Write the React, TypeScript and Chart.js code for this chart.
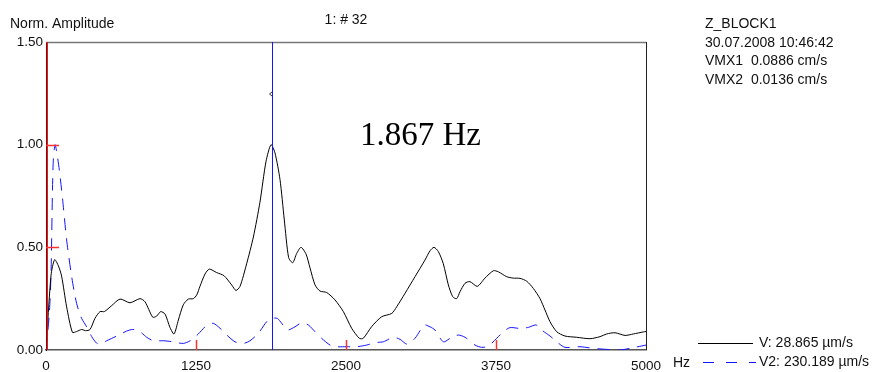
import { useEffect, useRef } from "react";
import { Chart, registerables } from "chart.js";

Chart.register(...registerables);

// ---- data ----
const vHz = [0, 42, 72, 103, 130, 172, 220, 255, 297, 330, 367, 408, 450, 486, 547, 617, 700, 783, 825, 889, 922, 956, 992, 1033, 1067, 1103, 1144, 1186, 1228, 1256, 1283, 1325, 1361, 1422, 1483, 1547, 1583, 1617, 1672, 1728, 1783, 1833, 1875, 1908, 1950, 1986, 2022, 2056, 2089, 2125, 2167, 2200, 2242, 2283, 2339, 2408, 2478, 2547, 2611, 2644, 2714, 2797, 2881, 2922, 2992, 3075, 3158, 3200, 3233, 3269, 3311, 3353, 3389, 3422, 3450, 3492, 3533, 3594, 3658, 3728, 3769, 3839, 3894, 3950, 4006, 4061, 4117, 4158, 4200, 4256, 4325, 4422, 4533, 4617, 4672, 4742, 4825, 4894, 4978, 5000];
const vAmp = [0, 0.365, 0.44, 0.41, 0.36, 0.21, 0.086, 0.09, 0.1, 0.094, 0.1, 0.154, 0.187, 0.187, 0.216, 0.248, 0.23, 0.25, 0.235, 0.16, 0.165, 0.187, 0.175, 0.11, 0.078, 0.146, 0.22, 0.248, 0.25, 0.268, 0.31, 0.37, 0.394, 0.377, 0.362, 0.317, 0.29, 0.31, 0.42, 0.55, 0.72, 0.917, 1.0, 0.96, 0.83, 0.633, 0.45, 0.425, 0.47, 0.5, 0.467, 0.4, 0.317, 0.287, 0.28, 0.244, 0.187, 0.106, 0.057, 0.057, 0.114, 0.162, 0.178, 0.21, 0.276, 0.357, 0.438, 0.483, 0.5, 0.48, 0.42, 0.317, 0.26, 0.25, 0.284, 0.325, 0.333, 0.31, 0.35, 0.386, 0.381, 0.357, 0.35, 0.349, 0.335, 0.3, 0.25, 0.195, 0.138, 0.089, 0.068, 0.062, 0.055, 0.065, 0.078, 0.084, 0.071, 0.078, 0.088, 0.09];

const v2Hz = [0, 28, 42, 53, 61, 75, 89, 111, 139, 172, 214, 255, 297, 339, 381, 422, 450, 506, 589, 672, 722, 783, 839, 894, 978, 1061, 1144, 1214, 1269, 1339, 1394, 1450, 1506, 1575, 1644, 1700, 1769, 1839, 1881, 1928, 1964, 2011, 2075, 2131, 2186, 2242, 2297, 2367, 2422, 2506, 2589, 2672, 2742, 2811, 2894, 2950, 3010, 3075, 3117, 3153, 3200, 3242, 3311, 3381, 3436, 3492, 3575, 3631, 3686, 3756, 3811, 3867, 3950, 4019, 4083, 4131, 4200, 4256, 4325, 4450, 4561, 4672, 4783, 4908, 5000];
const v2Amp = [0, 0.18, 0.375, 0.75, 0.925, 1.0, 0.966, 0.877, 0.73, 0.536, 0.357, 0.227, 0.154, 0.113, 0.065, 0.033, 0.029, 0.045, 0.068, 0.092, 0.1, 0.089, 0.062, 0.045, 0.045, 0.04, 0.032, 0.049, 0.078, 0.12, 0.13, 0.106, 0.073, 0.04, 0.032, 0.045, 0.081, 0.138, 0.154, 0.154, 0.13, 0.097, 0.113, 0.133, 0.122, 0.089, 0.057, 0.024, 0.016, 0.016, 0.016, 0.024, 0.036, 0.04, 0.062, 0.052, 0.028, 0.057, 0.094, 0.122, 0.113, 0.097, 0.04, 0.062, 0.073, 0.062, 0.024, 0.013, 0.019, 0.057, 0.089, 0.109, 0.105, 0.11, 0.122, 0.097, 0.068, 0.04, 0.013, 0.016, 0.008, 0.003, 0.0, 0.013, 0.024];

const xMin = 0;
const xMax = 5000;
const xStep = 1250;
const yMin = 0;
const yMax = 1.5;
const yStep = 0.5;
const redXTicks = [1250, 2500, 3750];
const redYTicks = [0.5, 1.0];
const cursorHz = 1880;
const peakLabel = "1.867 Hz";
const titleText = "1: # 32";
const yTitle = "Norm. Amplitude";
const xUnit = "Hz";
const infoLines = ["Z_BLOCK1", "30.07.2008 10:46:42", "VMX1  0.0886 cm/s", "VMX2  0.0136 cm/s"];
const legendV = "V: 28.865 µm/s";
const legendV2 = "V2: 230.189 µm/s";

const FONT = "'Liberation Sans', Arial, sans-serif";
const BLUE = "#1414ff";

const overlay = {
  id: "overlay",
  afterDatasetsDraw(chart: any) {
    const { ctx, chartArea: a, scales } = chart;
    const xs = scales.x;
    const ys = scales.y;
    ctx.save();
    // frame top & right
    ctx.lineWidth = 1.5;
    ctx.strokeStyle = "#777";
    ctx.beginPath();
    ctx.moveTo(a.left, a.top + 0.5);
    ctx.lineTo(a.right, a.top + 0.5);
    ctx.stroke();
    ctx.strokeStyle = "#222";
    ctx.lineWidth = 1;
    ctx.beginPath();
    ctx.moveTo(a.right + 0.5, a.top);
    ctx.lineTo(a.right + 0.5, a.bottom);
    ctx.stroke();
    // red cursor at left
    ctx.strokeStyle = "#e01010";
    ctx.lineWidth = 1.5;
    ctx.beginPath();
    ctx.moveTo(a.left + 1.2, a.top);
    ctx.lineTo(a.left + 1.2, a.bottom);
    ctx.stroke();
    // red ticks
    ctx.strokeStyle = "#ff3030";
    ctx.lineWidth = 1.5;
    redYTicks.forEach((v) => {
      const y = Math.round(ys.getPixelForValue(v)) + 0.5;
      ctx.beginPath();
      ctx.moveTo(a.left, y);
      ctx.lineTo(a.left + 13, y);
      ctx.stroke();
    });
    redXTicks.forEach((v) => {
      const x = Math.round(xs.getPixelForValue(v)) + 0.5;
      ctx.beginPath();
      ctx.moveTo(x, a.bottom);
      ctx.lineTo(x, a.bottom - 10);
      ctx.stroke();
    });
    // blue cursor
    const cx = Math.round(xs.getPixelForValue(cursorHz)) + 0.5;
    ctx.strokeStyle = BLUE;
    ctx.lineWidth = 1;
    ctx.beginPath();
    ctx.moveTo(cx, a.top);
    ctx.lineTo(cx, a.bottom);
    ctx.stroke();
    ctx.strokeStyle = "#333";
    ctx.beginPath();
    ctx.moveTo(cx - 0.5, 92);
    ctx.lineTo(cx - 3, 94);
    ctx.lineTo(cx - 0.5, 96);
    ctx.stroke();
    // big peak label
    ctx.fillStyle = "#000";
    ctx.font = "33px 'Liberation Serif', 'Times New Roman', serif";
    ctx.textAlign = "left";
    ctx.textBaseline = "alphabetic";
    ctx.fillText(peakLabel, 360, 145);
    // title
    ctx.font = `14px ${FONT}`;
    ctx.fillStyle = "#111";
    ctx.textAlign = "center";
    ctx.textBaseline = "middle";
    ctx.fillText(titleText, (a.left + a.right) / 2, 20);
    // y title
    ctx.textAlign = "left";
    ctx.fillText(yTitle, 10, 24);
    // info block
    infoLines.forEach((t, i) => ctx.fillText(t, 705, 24 + i * 18.7));
    // x unit
    ctx.fillText(xUnit, 673, 363);
    // legend
    ctx.strokeStyle = "#000";
    ctx.lineWidth = 1;
    ctx.beginPath();
    ctx.moveTo(698, 343.5);
    ctx.lineTo(753, 343.5);
    ctx.stroke();
    ctx.fillText(legendV, 759, 343);
    ctx.strokeStyle = BLUE;
    ctx.setLineDash([11, 12]);
    ctx.beginPath();
    ctx.moveTo(703, 362.5);
    ctx.lineTo(756, 362.5);
    ctx.stroke();
    ctx.setLineDash([]);
    ctx.fillText(legendV2, 759, 362);
    ctx.restore();
  },
};

export default function App() {
  const ref = useRef<HTMLCanvasElement | null>(null);
  useEffect(() => {
    if (!ref.current) return;
    const chart = new Chart(ref.current, {
      type: "line",
      data: {
        datasets: [
          {
            label: "V",
            data: vHz.map((x, i) => ({ x, y: vAmp[i] })),
            borderColor: "#000",
            borderWidth: 1,
            pointRadius: 0,
            tension: 0.25,
            fill: false,
          },
          {
            label: "V2",
            data: v2Hz.map((x, i) => ({ x, y: v2Amp[i] })),
            borderColor: BLUE,
            borderWidth: 1,
            borderDash: [12, 8],
            pointRadius: 0,
            tension: 0.25,
            fill: false,
          },
        ],
      },
      options: {
        responsive: false,
        animation: false,
        devicePixelRatio: 1,
        layout: { padding: { left: 0, right: 227, top: 42, bottom: 0 } },
        plugins: { legend: { display: false }, tooltip: { enabled: false } },
        scales: {
          x: {
            type: "linear",
            min: xMin,
            max: xMax,
            grid: { display: false, drawTicks: false },
            border: { display: true, color: "#555", width: 1.5 },
            ticks: {
              stepSize: xStep,
              autoSkip: false,
              maxRotation: 0,
              padding: 8,
              color: "#111",
              font: { family: FONT, size: 13.5 },
              callback: (v: any) => String(v),
            },
            afterFit: (s: any) => {
              s.height = 22;
            },
          },
          y: {
            type: "linear",
            min: yMin,
            max: yMax,
            grid: { display: false, drawTicks: false },
            border: { display: true, color: "#000", width: 1 },
            ticks: {
              stepSize: yStep,
              padding: 3,
              color: "#111",
              font: { family: FONT, size: 13.5 },
              callback: (v: any) => Number(v).toFixed(2),
            },
            afterFit: (s: any) => {
              s.width = 46;
            },
          },
        },
      },
      plugins: [overlay],
    } as any);
    return () => chart.destroy();
  }, []);
  return (
    <div style={{ position: "absolute", left: 0, top: 0, width: 873, height: 372, background: "#fff" }}>
      <canvas ref={ref} width={873} height={372} />
    </div>
  );
}
